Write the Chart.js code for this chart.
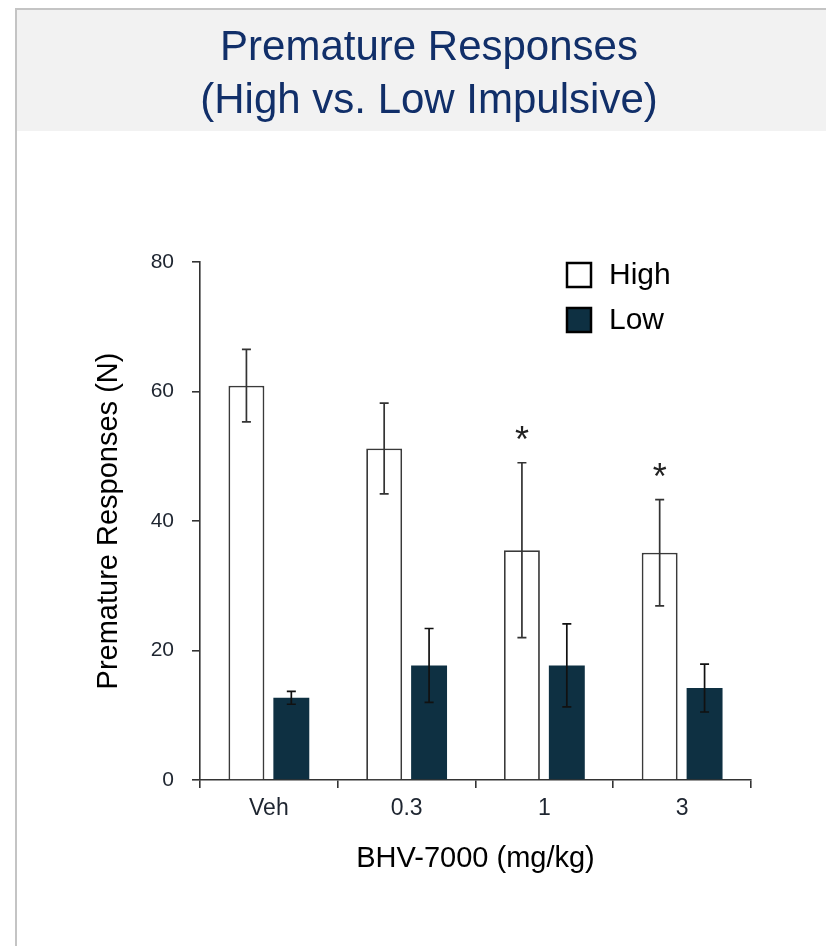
<!DOCTYPE html>
<html>
<head>
<meta charset="utf-8">
<script src="https://cdn.jsdelivr.net/npm/chart.js@4.4.1/dist/chart.umd.min.js"></script>
<style>
  html, body { margin: 0; padding: 0; background: #ffffff; }
  canvas { display: block; }
</style>
</head>
<body>
<canvas id="c" width="826" height="946"></canvas>
<script>
// ---- Data ----
const categories = ['Veh', '0.3', '1', '3'];
const seriesNames = ['High', 'Low'];
const highMeans = [60.9, 51.2, 35.5, 35.1];
const highSem = [5.6, 7.0, 13.5, 8.2];
const lowMeans = [12.7, 17.7, 17.7, 14.2];
const lowSem = [1.0, 5.7, 6.4, 3.7];
const highSignificance = ['', '', '*', '*'];
const yTickValues = [0, 20, 40, 60, 80];
const titleLines = ['Premature Responses', '(High vs. Low Impulsive)'];
const xAxisTitle = 'BHV-7000 (mg/kg)';
const yAxisTitle = 'Premature Responses (N)';

const FONT = "'Liberation Sans', Arial, sans-serif";

// Background frame + title panel
const framePlugin = {
  id: 'frame',
  beforeDraw(chart) {
    const ctx = chart.ctx;
    ctx.save();
    ctx.fillStyle = '#ffffff';
    ctx.fillRect(0, 0, chart.width, chart.height);
    ctx.fillStyle = '#f2f2f2';
    ctx.fillRect(17, 10, chart.width - 17, 121);
    ctx.fillStyle = '#c4c4c4';
    ctx.fillRect(15, 8, chart.width - 15, 2);
    ctx.fillRect(15, 8, 2, chart.height - 8);
    // title
    ctx.fillStyle = '#112f69';
    ctx.font = '42px ' + FONT;
    ctx.textAlign = 'center';
    ctx.textBaseline = 'middle';
    ctx.fillText(titleLines[0], 429, 48);
    ctx.fillText(titleLines[1], 429, 101);
    ctx.restore();
  }
};

// Error bars and significance markers
const errorBarPlugin = {
  id: 'errorBars',
  afterDatasetsDraw(chart) {
    const ctx = chart.ctx;
    const yScale = chart.scales.y;
    const sems = [highSem, lowSem];
    const colors = ['#333333', '#111111'];
    ctx.save();
    chart.data.datasets.forEach((ds, di) => {
      const meta = chart.getDatasetMeta(di);
      meta.data.forEach((bar, i) => {
        const v = ds.data[i];
        const s = sems[di][i];
        const x = bar.x;
        const yTop = yScale.getPixelForValue(v + s);
        const yBot = yScale.getPixelForValue(v - s);
        ctx.strokeStyle = colors[di];
        ctx.lineWidth = 1.7;
        ctx.beginPath();
        ctx.moveTo(x, yTop); ctx.lineTo(x, yBot);
        ctx.moveTo(x - 4.5, yTop); ctx.lineTo(x + 4.5, yTop);
        ctx.moveTo(x - 4.5, yBot); ctx.lineTo(x + 4.5, yBot);
        ctx.stroke();
        if (di === 0 && highSignificance[i]) {
          ctx.fillStyle = '#222222';
          ctx.font = '36px ' + FONT;
          ctx.textAlign = 'center';
          ctx.textBaseline = 'middle';
          ctx.fillText(highSignificance[i], x, yTop - 21);
        }
      });
    });
    ctx.restore();
  }
};

// Legend (inside chart area, upper right)
const legendPlugin = {
  id: 'customLegend',
  afterDraw(chart) {
    const ctx = chart.ctx;
    ctx.save();
    chart.data.datasets.forEach((ds, di) => {
      const bx = 567, by = 263 + di * 45, size = 24;
      ctx.fillStyle = ds.backgroundColor;
      ctx.fillRect(bx, by, size, size);
      ctx.strokeStyle = '#000000';
      ctx.lineWidth = 2.5;
      ctx.strokeRect(bx, by, size, size);
      ctx.fillStyle = '#000000';
      ctx.font = '30px ' + FONT;
      ctx.textAlign = 'left';
      ctx.textBaseline = 'middle';
      ctx.fillText(ds.label, 609, by + size / 2 + 1);
    });
    ctx.restore();
  }
};

new Chart(document.getElementById('c'), {
  type: 'bar',
  data: {
    labels: categories,
    datasets: [
      {
        label: seriesNames[0],
        data: highMeans,
        backgroundColor: '#ffffff',
        borderColor: '#3a3a3a',
        borderWidth: 1.8,
        categoryPercentage: 0.652,
        barPercentage: 0.8
      },
      {
        label: seriesNames[1],
        data: lowMeans,
        backgroundColor: '#0e3042',
        borderColor: '#0e3042',
        borderWidth: 0,
        categoryPercentage: 0.652,
        barPercentage: 0.8
      }
    ]
  },
  options: {
    responsive: false,
    animation: false,
    layout: { padding: { left: 80, right: 75, top: 262, bottom: 66 } },
    plugins: {
      legend: { display: false },
      title: { display: false },
      tooltip: { enabled: false }
    },
    scales: {
      x: {
        afterFit(scale) { scale.height = 100; },
        grid: { display: true, drawOnChartArea: false, drawTicks: true, tickLength: 8, color: '#333333', lineWidth: 1.6, offset: true },
        border: { display: true, color: '#333333', width: 1.6 },
        ticks: { color: '#1e2530', font: { family: FONT, size: 23 }, padding: 7, maxRotation: 0 },
        title: { display: true, text: xAxisTitle, color: '#000000', font: { family: FONT, size: 29 }, padding: { top: 0, bottom: 4 } }
      },
      y: {
        min: 0, max: 80,
        afterFit(scale) { scale.width = 120; },
        afterBuildTicks(scale) { scale.ticks = yTickValues.map(v => ({ value: v })); },
        grid: { display: true, drawOnChartArea: false, drawTicks: true, tickLength: 8, color: '#333333', lineWidth: 1.6 },
        border: { display: true, color: '#333333', width: 1.6 },
        ticks: { color: '#1e2530', font: { family: FONT, size: 21 }, padding: 18 },
        title: { display: true, text: yAxisTitle, color: '#000000', font: { family: FONT, size: 29 }, padding: { top: 12, bottom: 0 } }
      }
    }
  },
  plugins: [framePlugin, errorBarPlugin, legendPlugin]
});
</script>
</body>
</html>
